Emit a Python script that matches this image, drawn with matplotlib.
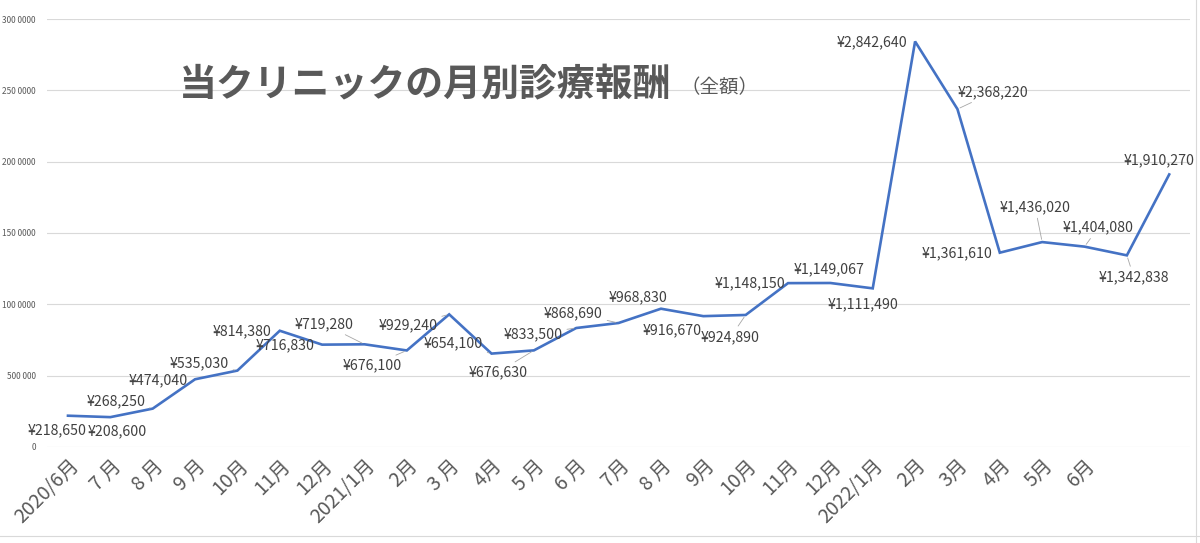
import numpy as np
import matplotlib
matplotlib.use("Agg")
import matplotlib.pyplot as plt
from matplotlib.lines import Line2D

plt.rcParams['font.family'] = ['Noto Sans CJK JP', 'DejaVu Sans']

# monthly totals (yen), 2020/6 .. 2022/8
months = ["2020/6月", "7 月", "8 月", "9 月", "10月", "11月", "12月",
          "2021/1月", "2月", "3 月", "4月", "5 月", "6 月", "7月", "8 月",
          "9月", "10月", "11月", "12月", "2022/1月", "2月", "3月", "4月",
          "5月", "6月", "", ""]
amounts = [218650, 208600, 268250, 474040, 535030, 814380, 716830,
           719280, 676100, 929240, 654100, 676630, 833500, 868690, 968830,
           916670, 924890, 1148150, 1149067, 1111490, 2842640, 2368220,
           1361610, 1436020, 1404080, 1342838, 1910270]

y_ticks = [0, 500000, 1000000, 1500000, 2000000, 2500000, 3000000]
y_tick_labels = ["0", "500 000", "100 0000", "150 0000", "200 0000",
                 "250 0000", "300 0000"]

# label offsets in pixels (dx, dy) and whether a leader line is drawn
label_offsets = [(-11, -15), (7, -14), (-37, 7), (-37, -1), (-38, 7),
                 (-38, -1), (-37, -1), (-40, 20), (-35, -15), (-41, -11),
                 (-38, 10), (-36, -22), (-43, -6), (-45, 10), (-23, 11),
                 (-31, -14), (-15, -22), (-38, 0), (-1, 14), (-10, -16),
                 (-43, -1), (36, 17), (-43, -1), (-7, 35), (14, 19),
                 (7, -22), (-10, 14)]
leaders = {2, 4, 7, 8, 9, 10, 11, 12, 13, 16, 21, 23, 24, 25}

fig = plt.figure(figsize=(12, 5.43), dpi=100)
ax = fig.add_axes([0.039, 0.177, 0.953, 0.788])

x = np.arange(len(amounts))
ax.plot(x, amounts, color="#4472C4", lw=1.9, solid_joinstyle="miter")

for i, (v, off) in enumerate(zip(amounts, label_offsets)):
    kw = {}
    if i in leaders:
        kw["arrowprops"] = dict(arrowstyle="-", color="#a6a6a6", lw=0.6,
                                shrinkA=1, shrinkB=2)
    ax.annotate(f"¥{v:,}", (i, v), xytext=off, textcoords="offset pixels",
                ha="center", va="center", fontsize=10.2, color="#404040",
                **kw)

ax.set_xlim(-0.5, len(amounts) - 0.5)
ax.set_ylim(0, 3000000)
ax.set_yticks(y_ticks)
ax.set_yticklabels(y_tick_labels, fontsize=6, color="#595959")
ax.set_xticks(x)
ax.set_xticklabels(months, rotation=45, ha="right", va="top",
                   rotation_mode="anchor", fontsize=14, color="#595959")
ax.tick_params(axis="both", length=0)
ax.tick_params(axis="y", pad=8)
ax.tick_params(axis="x", pad=6)
ax.grid(axis="y", color="#d9d9d9", lw=0.8)
ax.set_axisbelow(True)
for s in ax.spines.values():
    s.set_visible(False)

fig.text(0.149, 0.843, "当クリニックの月別診療報酬", fontsize=27.3,
         fontweight="bold", color="#595959", va="center")
fig.text(0.567, 0.838, "（全額）", fontsize=14, color="#595959",
         va="center")

# spreadsheet edges around the chart
fig.add_artist(Line2D([0.997, 0.997], [0.0, 1.0], color="#d9d9d9", lw=0.8,
                      transform=fig.transFigure))
fig.add_artist(Line2D([0.0, 1.0], [0.012, 0.012], color="#d9d9d9", lw=0.8,
                      transform=fig.transFigure))

fig.savefig("out.png", dpi=100)
